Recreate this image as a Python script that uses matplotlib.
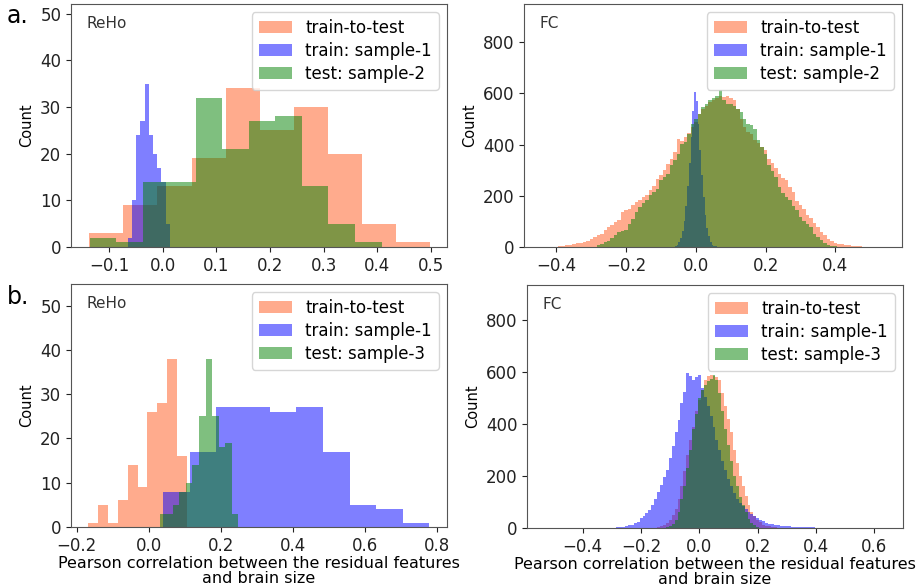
import matplotlib
matplotlib.use("Agg")
import matplotlib.pyplot as plt
import numpy as np

# ---------------- data (bin start, bin width, counts) ----------------
# a. ReHo
reho_a_tt_start, reho_a_tt_width = -0.137, 0.0636
reho_a_tt = [3, 9, 13, 19, 34, 25, 30, 20, 5, 1]
reho_a_s1_start, reho_a_s1_width = -0.065, 0.0078
reho_a_s1 = [2, 10, 24, 27, 35, 24, 20, 17, 14, 5]
reho_a_s2_start, reho_a_s2_width = -0.1365, 0.0495
reho_a_s2 = [2, 1, 14, 14, 32, 21, 27, 28, 13, 5, 1]

# a. FC
fc_a_tt_start, fc_a_tt_width = -0.395, 0.01
fc_a_tt = [4, 5, 7, 9, 12, 14, 16, 20, 22, 30,
           39, 45, 52, 65, 78, 85, 98, 105, 137, 146,
           150, 163, 175, 182, 195, 205, 222, 240, 265, 280,
           300, 325, 345, 370, 420, 415, 430, 445, 470, 490,
           520, 540, 550, 565, 575, 580, 590, 585, 590, 580,
           575, 540, 500, 470, 450, 440, 417, 405, 390, 380,
           345, 330, 310, 285, 270, 260, 235, 215, 180, 165,
           150, 125, 115, 95, 80, 60, 48, 33, 25, 16,
           12, 10, 8, 6, 5, 3, 2]
fc_a_s1_start, fc_a_s1_width = -0.06, 0.005
fc_a_s1 = [3, 8, 18, 35, 62, 100, 160, 240, 330, 430, 530, 605,
           570, 480, 380, 280, 195, 125, 75, 42, 20, 9, 4, 2]
fc_a_s2_start, fc_a_s2_width = -0.285, 0.01
fc_a_s2 = [8, 12, 18, 25, 35, 45, 59, 62, 66, 91,
           110, 137, 156, 170, 183, 202, 215, 228, 261, 275,
           287, 319, 340, 365, 404, 411, 440, 480, 500, 521,
           547, 560, 575, 580, 590, 613, 575, 560, 560, 550,
           540, 528, 500, 482, 475, 460, 417, 390, 365, 319,
           295, 274, 235, 210, 196, 182, 160, 143, 117, 100,
           91, 78, 50, 39, 26, 16, 8, 5, 3]

# b. ReHo
reho_b_tt_start, reho_b_tt_width = -0.168, 0.0273
reho_b_tt = [1, 5, 1, 6, 14, 9, 26, 28, 38, 16]
reho_b_s1_start, reho_b_s1_width = 0.040, 0.0738
reho_b_s1 = [8, 17, 27, 27, 26, 27, 17, 5, 4, 1]
reho_b_s3_start, reho_b_s3_width = 0.0305, 0.0181
reho_b_s3 = [3, 3, 5, 8, 10, 14, 25, 38, 25, 18, 19, 3]

# b. FC
fc_b_tt_start, fc_b_tt_width = -0.145, 0.01
fc_b_tt = [3, 6, 10, 18, 30, 50, 75, 110, 160, 220,
           280, 340, 390, 450, 494, 530, 570, 585, 590, 585,
           583, 570, 520, 470, 420, 370, 300, 250, 200, 160,
           122, 90, 62, 45, 32, 22, 13, 9, 6, 4, 2]
fc_b_s1_start, fc_b_s1_width = -0.285, 0.01
fc_b_s1 = [2, 3, 5, 8, 10, 13, 18, 25, 38, 45,
           58, 70, 90, 110, 140, 165, 195, 225, 270, 314,
           370, 417, 480, 525, 596, 585, 570, 583, 590, 540,
           506, 470, 430, 390, 340, 300, 260, 225, 190, 160,
           135, 110, 95, 83, 72, 62, 55, 46, 38, 32,
           26, 21, 17, 14, 12, 10, 8, 7, 6, 6,
           5, 4, 4, 3, 3, 2, 2, 2, 1, 1, 1, 1]
fc_b_s3_start, fc_b_s3_width = -0.115, 0.01
fc_b_s3 = [4, 8, 15, 30, 60, 110, 160, 230, 300, 380,
           440, 500, 530, 550, 565, 575, 590, 570, 520, 450,
           380, 320, 260, 200, 160, 120, 90, 60, 35, 18, 10, 5]

label_tt = "train-to-test"
label_s1 = "train: sample-1"
xlabel = "Pearson correlation between the residual features\nand brain size"

c_tt, a_tt = "#ff7f50", 0.65
c_s1, a_s1 = "blue", 0.5
c_s2, a_s2 = "green", 0.5


def draw_hist(ax, start, width, counts, color, alpha, label):
    counts = np.asarray(counts, dtype=float)
    edges = start + width * np.arange(len(counts) + 1)
    ax.hist(edges[:-1], bins=edges, weights=counts, color=color,
            alpha=alpha, label=label)


def panel(ax, series, title, test_label, xlim, ylim, xticks, yticks, xl=None):
    (tt, s1, s2) = series
    draw_hist(ax, *tt, c_tt, a_tt, label_tt)
    draw_hist(ax, *s1, c_s1, a_s1, label_s1)
    draw_hist(ax, *s2, c_s2, a_s2, test_label)
    ax.set_xlim(*xlim)
    ax.set_ylim(*ylim)
    ax.set_xticks(xticks)
    ax.set_yticks(yticks)
    ax.tick_params(labelsize=12, colors="#222222")
    for s in ax.spines.values():
        s.set_color("#555555")
    ax.set_ylabel("Count", fontsize=10.5)
    ax.text(0.04, 0.95, title, transform=ax.transAxes, fontsize=11,
            va="top", ha="left", color="#333333")
    ax.legend(loc="upper right", fontsize=12, labelspacing=0.3,
              handlelength=2.0, borderaxespad=0.5)
    if xl:
        ax.set_xlabel(xl, fontsize=11.5, labelpad=1, linespacing=0.95)


fig = plt.figure(figsize=(9.21, 5.88), dpi=100)
W, H = 921, 588


def add_ax(l, t, r, b):
    return fig.add_axes([l / W, 1 - b / H, (r - l) / W, (b - t) / H])


ax1 = add_ax(71, 4, 447, 247)
ax2 = add_ax(524, 4, 902, 247)
ax3 = add_ax(71, 284, 447, 527)
ax4 = add_ax(527, 285, 903, 528)

panel(ax1,
      [(reho_a_tt_start, reho_a_tt_width, reho_a_tt),
       (reho_a_s1_start, reho_a_s1_width, reho_a_s1),
       (reho_a_s2_start, reho_a_s2_width, reho_a_s2)],
      "ReHo", "test: sample-2", (-0.171, 0.530), (0, 52.1),
      [-0.1, 0, 0.1, 0.2, 0.3, 0.4, 0.5], [0, 10, 20, 30, 40, 50])
panel(ax2,
      [(fc_a_tt_start, fc_a_tt_width, fc_a_tt),
       (fc_a_s1_start, fc_a_s1_width, fc_a_s1),
       (fc_a_s2_start, fc_a_s2_width, fc_a_s2)],
      "FC", "test: sample-2", (-0.493, 0.591), (0, 949),
      [-0.4, -0.2, 0, 0.2, 0.4], [0, 200, 400, 600, 800])
panel(ax3,
      [(reho_b_tt_start, reho_b_tt_width, reho_b_tt),
       (reho_b_s1_start, reho_b_s1_width, reho_b_s1),
       (reho_b_s3_start, reho_b_s3_width, reho_b_s3)],
      "ReHo", "test: sample-3", (-0.216, 0.827), (0, 54.9),
      [-0.2, 0, 0.2, 0.4, 0.6, 0.8], [0, 10, 20, 30, 40, 50], xlabel)
panel(ax4,
      [(fc_b_tt_start, fc_b_tt_width, fc_b_tt),
       (fc_b_s1_start, fc_b_s1_width, fc_b_s1),
       (fc_b_s3_start, fc_b_s3_width, fc_b_s3)],
      "FC", "test: sample-3", (-0.591, 0.698), (0, 936),
      [-0.4, -0.2, 0, 0.2, 0.4, 0.6], [0, 200, 400, 600, 800], xlabel)

fig.text(7 / W, 1 - 16 / H, "a.", fontsize=17, va="center", ha="left")
fig.text(7 / W, 1 - 297 / H, "b.", fontsize=17, va="center", ha="left")

fig.savefig("out.png", dpi=100)
